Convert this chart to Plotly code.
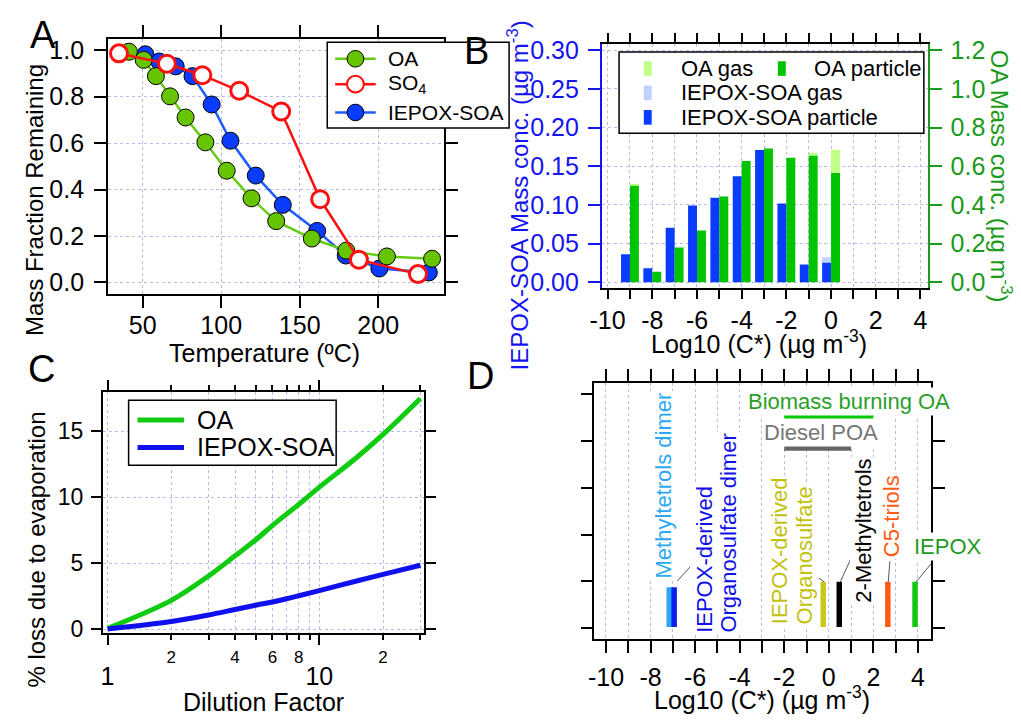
import plotly.graph_objects as go

W, H = 1021, 721
FONT = "Liberation Sans, Arial, sans-serif"


def px(x):
    return x / W


def py(y):
    return 1 - y / H


# ---------------- Panel A data: thermogram ----------------
oa_temp = [41.2, 50.6, 58.4, 67.4, 77.3, 89.9, 103.5, 119.3, 135.0, 157.7, 179.7, 205.5, 234.3]
oa_mfr = [0.993, 0.958, 0.888, 0.801, 0.710, 0.603, 0.481, 0.362, 0.264, 0.189, 0.137, 0.112, 0.102]
so4_temp = [34.9, 65.4, 88.0, 111.5, 138.2, 163.0, 187.7, 225.3]
so4_mfr = [0.986, 0.941, 0.892, 0.825, 0.736, 0.358, 0.098, 0.036]
iepox_temp = [51.7, 60.5, 71.0, 81.7, 93.9, 105.9, 122.0, 139.2, 161.1, 179.3, 200.7, 232.2]
iepox_mfr = [0.982, 0.951, 0.930, 0.888, 0.766, 0.610, 0.460, 0.334, 0.222, 0.116, 0.060, 0.043]
a_series = ["OA", "SO<sub>4</sub>", "IEPOX-SOA"]
a_xticks = [50, 100, 150, 200]
a_yticks = [0.0, 0.2, 0.4, 0.6, 0.8, 1.0]

# ---------------- Panel B data: volatility basis set ----------------
vbs_bins = [-9, -8, -7, -6, -5, -4, -3, -2, -1, 0]
iepox_particle = [0.0362, 0.0181, 0.0707, 0.0993, 0.1094, 0.1372, 0.1712, 0.1018, 0.0231, 0.0257]
iepox_gas = [0.0, 0.0, 0.0, 0.0, 0.0, 0.0, 0.0, 0.0, 0.0, 0.0067]
oa_particle = [0.5015, 0.0555, 0.180, 0.2676, 0.4443, 0.6278, 0.6917, 0.6446, 0.6564, 0.5672]
oa_gas = [0.005, 0.0, 0.0, 0.0, 0.0, 0.0, 0.0, 0.0, 0.014, 0.118]
b_series = ["OA gas", "OA particle", "IEPOX-SOA gas", "IEPOX-SOA particle"]
b_left_ticks = [0.0, 0.05, 0.10, 0.15, 0.20, 0.25, 0.30]
b_right_ticks = [0.0, 0.2, 0.4, 0.6, 0.8, 1.0, 1.2]
logc_ticks = list(range(-10, 5))

# ---------------- Panel C data: dilution ----------------
dilution = [1, 2, 3, 4, 5, 6, 7, 8, 10, 15, 20, 30]
oa_loss = [0.05, 2.17, 4.02, 5.55, 6.75, 7.84, 8.71, 9.45, 10.75, 13.0, 14.75, 17.47]
iepox_loss = [0.0, 0.57, 1.06, 1.48, 1.80, 2.05, 2.29, 2.52, 2.91, 3.64, 4.14, 4.83]
c_series = ["OA", "IEPOX-SOA"]
c_major = [1, 10]
c_minor_labels = [2, 4, 6, 8, 20]
c_minor_ticks = [2, 3, 4, 5, 6, 7, 8, 9, 20, 30]
c_yticks = [0, 5, 10, 15]

# ---------------- Panel D data: C* of species ----------------
species = ["Methyltetrols dimer", "IEPOX-derived Organosulfate dimer",
           "IEPOX-derived Organosulfate", "2-Methyltetrols", "C5-triols", "IEPOX"]
species_logc = [-7.16, -6.94, -0.25, 0.47, 2.65, 3.87]
sources = ["Biomass burning OA", "Diesel POA"]
source_lo = [-2, -2]
source_hi = [2, 1]

# ---------------- styles ----------------
A_COL = dict(oa_line="#66cc11", oa_fill="#66c400", so4="#ff1010",
             iep_line="#1f5cff", iep_fill="#0a3cff")
B_COL = ["#c0ff88", "#00c400", "#c0d0ff", "#0a3cff"]
C_COL = ["#10cc10", "#1010ee"]
BLUE_T = "#1414f0"
GREEN_T = "#1a9a1a"
species_color = ["#2aa8f5", "#0a1ee8", "#c8c81a", "#000000", "#ff5a14", "#10c810"]
species_text_color = ["#2aa8f5", "#1010e8", "#c2c20e", "#000000", "#ff5a14", "#229a22"]
species_top = [0.87, 0.87, 0.99, 0.99, 0.99, 0.99]
source_color = ["#00c800", "#666666"]
source_text_color = ["#2a9e2a", "#777777"]
source_row = [4.53, 3.87]

GRID = dict(showgrid=True, gridcolor="#b9b9f2", griddash="dot", gridwidth=1)
LINE = dict(showline=True, linecolor="black", linewidth=1.5, zeroline=False)
TICK = dict(ticks="outside", ticklen=12, tickwidth=1.5, tickcolor="black")
TF = 25

fig = go.Figure()

# Panel A traces
fig.add_trace(go.Scatter(
    x=iepox_temp, y=iepox_mfr, name=a_series[2], mode="lines+markers",
    line=dict(color=A_COL["iep_line"], width=2.5),
    marker=dict(size=17, color=A_COL["iep_fill"], line=dict(color="black", width=1)),
    xaxis="x", yaxis="y", showlegend=False))
fig.add_trace(go.Scatter(
    x=oa_temp, y=oa_mfr, name=a_series[0], mode="lines+markers",
    line=dict(color=A_COL["oa_line"], width=2.5),
    marker=dict(size=17, color=A_COL["oa_fill"], line=dict(color="black", width=1)),
    xaxis="x", yaxis="y", showlegend=False))
fig.add_trace(go.Scatter(
    x=so4_temp, y=so4_mfr, name=a_series[1], mode="lines+markers",
    line=dict(color=A_COL["so4"], width=2.5),
    marker=dict(size=17, color="white", line=dict(color=A_COL["so4"], width=3)),
    xaxis="x", yaxis="y", showlegend=False))

# Panel B traces
fig.add_trace(go.Bar(x=vbs_bins, y=iepox_particle, offset=-0.4, width=0.4, name=b_series[3],
                     marker=dict(color=B_COL[3], line=dict(width=0)),
                     xaxis="x2", yaxis="y2", showlegend=False))
fig.add_trace(go.Bar(x=vbs_bins, y=iepox_gas, base=iepox_particle, offset=-0.4, width=0.4,
                     name=b_series[2], marker=dict(color=B_COL[2], line=dict(width=0)),
                     xaxis="x2", yaxis="y2", showlegend=False))
fig.add_trace(go.Bar(x=vbs_bins, y=oa_particle, offset=0.0, width=0.4, name=b_series[1],
                     marker=dict(color=B_COL[1], line=dict(width=0)),
                     xaxis="x2", yaxis="y3", showlegend=False))
fig.add_trace(go.Bar(x=vbs_bins, y=oa_gas, base=oa_particle, offset=0.0, width=0.4,
                     name=b_series[0], marker=dict(color=B_COL[0], line=dict(width=0)),
                     xaxis="x2", yaxis="y3", showlegend=False))

# Panel C traces
fig.add_trace(go.Scatter(x=dilution, y=oa_loss, name=c_series[0], mode="lines",
                         line_shape="spline", line=dict(color=C_COL[0], width=5),
                         xaxis="x3", yaxis="y4", showlegend=False))
fig.add_trace(go.Scatter(x=dilution, y=iepox_loss, name=c_series[1], mode="lines",
                         line_shape="spline", line=dict(color=C_COL[1], width=5),
                         xaxis="x3", yaxis="y4", showlegend=False))
fig.add_trace(go.Scatter(x=[], y=[], xaxis="x6", yaxis="y4", showlegend=False))

# Panel D traces
for name, xc, top, col in zip(species, species_logc, species_top, species_color):
    fig.add_trace(go.Scatter(x=[xc, xc], y=[0.02, top], mode="lines", name=name,
                             line=dict(color=col, width=5.5),
                             xaxis="x4", yaxis="y5", showlegend=False, hoverinfo="skip"))
for name, lo, hi, row, col in zip(sources, source_lo, source_hi, source_row, source_color):
    fig.add_trace(go.Scatter(x=[lo, hi], y=[row, row], mode="lines", name=name,
                             line=dict(color=col, width=7),
                             xaxis="x4", yaxis="y5", showlegend=False, hoverinfo="skip"))

annotations = []
shapes = []


def ann(text, x, y, size=TF, color="black", angle=0, xanchor="center", yanchor="middle",
        xref="paper", yref="paper", bg=None):
    d = dict(text=text, x=x, y=y, xref=xref, yref=yref, showarrow=False,
             font=dict(family=FONT, size=size, color=color), textangle=angle,
             xanchor=xanchor, yanchor=yanchor)
    if bg:
        d["bgcolor"] = bg
    annotations.append(d)


# panel letters
ann("A", px(31), py(28), size=38)
ann("B", px(470), py(44), size=38)
ann("C", px(30), py(370), size=38)
ann("D", px(474), py(377), size=38)

# axis titles
ann("Mass Fraction Remaining", px(23), py(197), size=24, angle=-90)
ann("Temperature (ºC)", px(256), py(353))
ann("IEPOX-SOA Mass conc. (µg m<sup>-3</sup>)", px(512), py(192), size=24, color=BLUE_T,
    angle=-90)
ann("OA Mass conc. (µg m<sup>-3</sup>)", px(1001), py(172), size=24, color=GREEN_T, angle=90)
ann("Log10 (C*) (µg m<sup>-3</sup>)", px(756), py(342))
ann("% loss due to evaporation", px(25), py(555), size=24, angle=-90)
ann("Dilution Factor", px(254), py(711))
ann("Log10 (C*) (µg m<sup>-3</sup>)", px(759), py(707))

# Panel A manual legend
shapes.append(dict(type="rect", xref="paper", yref="paper", x0=px(319), x1=px(503),
                   y0=py(123), y1=py(35), fillcolor="white",
                   line=dict(color="black", width=1.5), layer="above"))
a_leg = [(a_series[0], A_COL["oa_line"], A_COL["oa_fill"], "black", 52),
         (a_series[1], A_COL["so4"], "white", A_COL["so4"], 78),
         (a_series[2], A_COL["iep_line"], A_COL["iep_fill"], "black", 107)]
for label, lcol, fcol, ecol, cy in a_leg:
    shapes.append(dict(type="line", xref="paper", yref="paper", x0=px(327), x1=px(368),
                       y0=py(cy), y1=py(cy), line=dict(color=lcol, width=2.5), layer="above"))
    shapes.append(dict(type="circle", xref="paper", yref="paper", x0=px(339), x1=px(356),
                       y0=py(cy + 8.5), y1=py(cy - 8.5), fillcolor=fcol,
                       line=dict(color=ecol, width=2 if fcol == "white" else 1), layer="above"))
    ann(label, px(378), py(cy), size=21, xanchor="left")

# Panel B manual legend
shapes.append(dict(type="rect", xref="paper", yref="paper", x0=px(614.3), x1=px(922.7),
                   y0=py(128.3), y1=py(45), fillcolor="white",
                   line=dict(color="black", width=1.5), layer="above"))
b_leg = [(b_series[0], B_COL[0], 639.3, 675, 62), (b_series[1], B_COL[1], 775, 810, 62),
         (b_series[2], B_COL[2], 639.3, 675, 87), (b_series[3], B_COL[3], 639.3, 675, 112)]
for label, col, sx, tx, cy in b_leg:
    shapes.append(dict(type="rect", xref="paper", yref="paper", x0=px(sx), x1=px(sx + 8),
                       y0=py(cy + 7.5), y1=py(cy - 7.5), fillcolor=col, line=dict(width=0),
                       layer="above"))
    ann(label, px(tx), py(cy), size=22, xanchor="left")

# Panel C manual legend
shapes.append(dict(type="rect", xref="paper", yref="paper", x0=px(118), x1=px(328),
                   y0=py(468.3), y1=py(401.7), fillcolor="white",
                   line=dict(color="black", width=1.5), layer="above"))
for label, col, cy in zip(c_series, C_COL, [422, 450]):
    shapes.append(dict(type="line", xref="paper", yref="paper", x0=px(127), x1=px(174),
                       y0=py(cy), y1=py(cy), line=dict(color=col, width=5), layer="above"))
    ann(label, px(185), py(cy), size=25, xanchor="left")

# Panel D labels
ann("Methyltetrols dimer", species_logc[0] - 0.25, 1.01, size=22, color=species_text_color[0],
    angle=-90, yanchor="bottom", xref="x4", yref="y5", bg="white")
ann("IEPOX-derived", -5.61, -0.14, size=22, color=species_text_color[1], angle=-90,
    yanchor="bottom", xref="x4", yref="y5", bg="white")
ann("Organosulfate dimer", -4.50, -0.14, size=22, color=species_text_color[1], angle=-90,
    yanchor="bottom", xref="x4", yref="y5", bg="white")
ann("IEPOX-derived", -2.21, 0.04, size=22, color=species_text_color[2], angle=-90,
    yanchor="bottom", xref="x4", yref="y5", bg="white")
ann("Organosulfate", -1.10, 0.04, size=22, color=species_text_color[2], angle=-90,
    yanchor="bottom", xref="x4", yref="y5", bg="white")
ann("2-Methyltetrols", 1.56, 0.49, size=22, color=species_text_color[3], angle=-90,
    yanchor="bottom", xref="x4", yref="y5", bg="white")
ann("C5-triols", 2.85, 1.48, size=22, color=species_text_color[4], angle=-90,
    yanchor="bottom", xref="x4", yref="y5", bg="white")
ann("IEPOX", px(946.7), py(551.7), size=22, color=species_text_color[5], bg="white")
ann("Biomass burning OA", 0.9, 4.85, size=22, color=source_text_color[0], xref="x4", yref="y5",
    bg="white")
ann("Diesel POA", -0.36, 4.18, size=22, color=source_text_color[1], xref="x4", yref="y5",
    bg="white")

# leader lines in panel D (relative to the species positions)
leaders = [(species_logc[1] + 0.15, 1.01, species_logc[1] + 0.74, 1.32),
           (species_logc[2] - 0.33, 1.11, species_logc[2] + 0.04, 0.99),
           (species_logc[3] + 0.05, 0.99, species_logc[3] + 0.50, 1.46),
           (species_logc[4] + 0.02, 0.99, species_logc[4] + 0.09, 1.43),
           (species_logc[5] + 0.05, 0.99, species_logc[5] + 0.87, 1.46)]
for x0, y0, x1, y1 in leaders:
    shapes.append(dict(type="line", xref="x4", yref="y5", x0=x0, y0=y0, x1=x1, y1=y1,
                       line=dict(color="#555555", width=1)))

fig.update_layout(
    width=W, height=H, margin=dict(l=0, r=0, t=0, b=0),
    paper_bgcolor="white", plot_bgcolor="white",
    font=dict(family=FONT, size=TF, color="black"),
    barmode="overlay", showlegend=False,
    # Panel A
    xaxis=dict(domain=[px(97), px(437)], anchor="y", range=[27.8, 241.8],
               tickvals=a_xticks, mirror="ticks", ticklabelstandoff=-4,
               tickfont=dict(size=TF), **LINE, **GRID, **TICK),
    yaxis=dict(domain=[py(293), py(31.7)], anchor="x", range=[-0.05, 1.048],
               tickvals=a_yticks, ticktext=[f"{v:.1f}" for v in a_yticks],
               mirror="ticks", tickfont=dict(size=TF), ticklabelstandoff=5,
               **LINE, **GRID, **TICK),
    # Panel B
    xaxis2=dict(domain=[px(596.7), px(926.7)], anchor="y2", range=[-10.265, 4.33],
                tickvals=logc_ticks,
                ticktext=[str(v) if v % 2 == 0 else "" for v in logc_ticks],
                mirror="ticks", tickfont=dict(size=TF), ticklabelstandoff=0,
                ticklen=9, **LINE, **GRID,
                ticks="outside", tickwidth=1.5, tickcolor="black"),
    yaxis2=dict(domain=[py(286.7), py(36.7)], anchor="x2", range=[-0.0072, 0.3083],
                tickvals=b_left_ticks, ticktext=[f"{v:.2f}" for v in b_left_ticks],
                showline=True, linecolor=BLUE_T, linewidth=1.5, zeroline=False,
                ticks="outside", ticklen=12, tickwidth=1.5, tickcolor=BLUE_T,
                tickfont=dict(size=TF, color=BLUE_T), ticklabelstandoff=4, **GRID),
    yaxis3=dict(overlaying="y2", side="right", anchor="x2", range=[-0.0288, 1.2332],
                tickvals=b_right_ticks, ticktext=[f"{v:.1f}" for v in b_right_ticks],
                showline=True, linecolor=GREEN_T, linewidth=1.5, zeroline=False,
                ticks="outside", ticklen=12, tickwidth=1.5, tickcolor=GREEN_T,
                tickfont=dict(size=TF, color=GREEN_T), ticklabelstandoff=4,
                showgrid=False),
    # Panel C
    xaxis3=dict(domain=[px(91.7), px(417.3)], anchor="y4", type="log",
                range=[-0.0233, 1.496], tickvals=c_major, ticktext=["1", "10"],
                mirror="ticks", tickfont=dict(size=TF), ticklabelstandoff=10,
                minor=dict(tickvals=c_minor_ticks, ticks="outside", ticklen=5,
                           tickwidth=1.5, tickcolor="black", showgrid=True,
                           gridcolor="#b9b9f2", griddash="dot", gridwidth=1),
                ticks="outside", ticklen=10, tickwidth=1.5, tickcolor="black",
                **LINE, **GRID),
    xaxis6=dict(overlaying="x3", side="bottom", anchor="y4", type="log",
                range=[-0.0233, 1.496], tickvals=c_minor_labels,
                ticktext=["2", "4", "6", "8", "2"], ticks="", showgrid=False,
                showline=False, zeroline=False, tickfont=dict(size=17),
                ticklabelstandoff=12),
    yaxis4=dict(domain=[py(640), py(393.3)], anchor="x3", range=[-0.296, 17.96],
                tickvals=c_yticks, mirror="ticks", tickfont=dict(size=23),
                ticklabelstandoff=3, showline=True, linecolor="black", linewidth=1.5,
                zeroline=False, ticks="outside", ticklen=10, tickwidth=1.5,
                tickcolor="black", **GRID),
    # Panel D
    xaxis4=dict(domain=[px(589.3), px(930)], anchor="y5", range=[-10.52, 4.59],
                tickvals=logc_ticks,
                ticktext=[str(v) if v % 2 == 0 else "" for v in logc_ticks],
                mirror="ticks", tickfont=dict(size=TF), ticklabelstandoff=3,
                **LINE, **GRID, **TICK),
    yaxis5=dict(domain=[py(646), py(384)], anchor="x4", range=[-0.23, 5.245],
                tickvals=[0, 1, 2, 3, 4, 5], showticklabels=False, mirror="ticks",
                showgrid=False, **LINE, **TICK),
    annotations=annotations, shapes=shapes,
)

fig.write_html("out.html")
